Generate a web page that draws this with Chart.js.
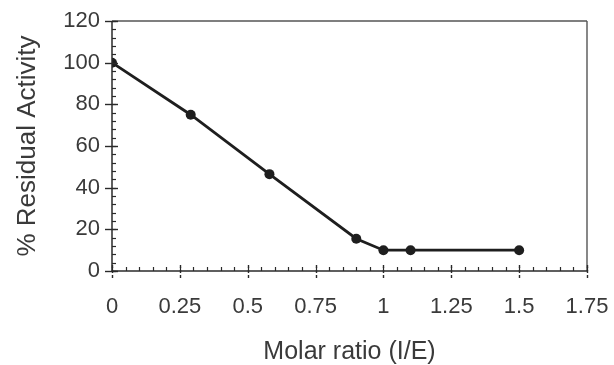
<!DOCTYPE html>
<html><head><meta charset="utf-8">
<script src="https://cdn.jsdelivr.net/npm/chart.js@4"></script>
<style>html,body{margin:0;padding:0;background:#fff}#wrap{width:614px;height:365px}</style>
</head><body><div id="wrap"><canvas id="c" width="614" height="365"></canvas></div>
<script>
const molarRatio = [0, 0.29, 0.58, 0.9, 1.0, 1.1, 1.5];
const residualActivity = [100, 75, 46.5, 15.5, 10, 10, 10];
const xTicks = [0, 0.25, 0.5, 0.75, 1, 1.25, 1.5, 1.75];
const yTicks = [0, 20, 40, 60, 80, 100, 120];
const xMinorStep = 0.05;
const yMinorStep = 4;

const FONT = '"Liberation Sans", Arial, sans-serif';
const TEXT = '#3a3a3a';

const points = molarRatio.map((x, i) => ({ x, y: residualActivity[i] }));

const axisTicks = {
  id: 'axisTicks',
  afterDraw(chart) {
    const ctx = chart.ctx, xs = chart.scales.x, ys = chart.scales.y, a = chart.chartArea;
    ctx.save();
    const seg = (x1, y1, x2, y2) => { ctx.beginPath(); ctx.moveTo(x1, y1); ctx.lineTo(x2, y2); ctx.stroke(); };
    ctx.strokeStyle = '#555'; ctx.lineWidth = 1.4;
    seg(a.left, a.top, a.right, a.top);
    seg(a.right, a.top, a.right, a.bottom);
    ctx.strokeStyle = '#2a2a2a'; ctx.lineWidth = 1.5;
    seg(a.left, a.bottom, a.right, a.bottom);
    seg(a.left, a.top, a.left, a.bottom);
    ctx.lineWidth = 1.2;
    for (let v = xs.min; v <= xs.max + 1e-9; v += xMinorStep) {
      const p = Math.round(xs.getPixelForValue(v)) + 0.5;
      seg(p, a.bottom, p, a.bottom - 4);
    }
    for (let v = ys.min; v <= ys.max + 1e-9; v += yMinorStep) {
      const p = Math.round(ys.getPixelForValue(v)) + 0.5;
      seg(a.left, p, a.left + 4, p);
    }
    ctx.lineWidth = 1.4;
    ctx.setLineDash([3, 2]);
    xTicks.forEach(v => {
      const p = Math.round(xs.getPixelForValue(v)) + 0.5;
      seg(p, a.bottom - 6, p, a.bottom + 9);
    });
    ctx.setLineDash([]);
    yTicks.forEach(v => {
      const p = Math.round(ys.getPixelForValue(v)) + 0.5;
      seg(a.left - 7, p, a.left + 6, p);
    });
    ctx.restore();
  }
};

new Chart(document.getElementById('c'), {
  type: 'line',
  data: {
    datasets: [{
      data: points,
      borderColor: '#1e1e1e',
      borderWidth: 2.8,
      backgroundColor: '#1e1e1e',
      pointRadius: 5,
      pointBorderWidth: 0,
      pointBackgroundColor: '#1e1e1e',
      tension: 0
    }]
  },
  options: {
    responsive: false,
    animation: false,
    devicePixelRatio: 1,
    layout: { padding: { left: 0, top: 21, right: 27, bottom: 0 } },
    plugins: { legend: { display: false }, tooltip: { enabled: false } },
    scales: {
      x: {
        type: 'linear',
        min: 0, max: 1.75,
        afterBuildTicks: s => { s.ticks = xTicks.map(v => ({ value: v })); },
        afterFit: s => { s.height = 94; s.paddingLeft = 0; s.paddingRight = 0; },
        grid: { display: false, drawTicks: false },
        border: { display: false },
        ticks: {
          color: TEXT, font: { family: FONT, size: 22 }, padding: 23,
          maxRotation: 0, autoSkip: false,
          callback: v => String(v)
        },
        title: {
          display: true, text: 'Molar ratio (I/E)', color: TEXT,
          font: { family: FONT, size: 25, lineHeight: 1 }, padding: { top: 0, bottom: 0 }
        }
      },
      y: {
        type: 'linear',
        min: 0, max: 120,
        afterBuildTicks: s => { s.ticks = yTicks.map(v => ({ value: v })); },
        afterFit: s => { s.width = 112; s.paddingTop = 0; s.paddingBottom = 0; },
        grid: { display: false, drawTicks: false },
        border: { display: false },
        ticks: {
          color: TEXT, font: { family: FONT, size: 22 }, padding: 12,
          callback: v => String(v)
        },
        title: {
          display: true, text: '% Residual Activity', color: TEXT,
          font: { family: FONT, size: 26, lineHeight: 1 }, padding: { top: 15, bottom: 0 }
        }
      }
    }
  },
  plugins: [axisTicks]
});
</script></body></html>
